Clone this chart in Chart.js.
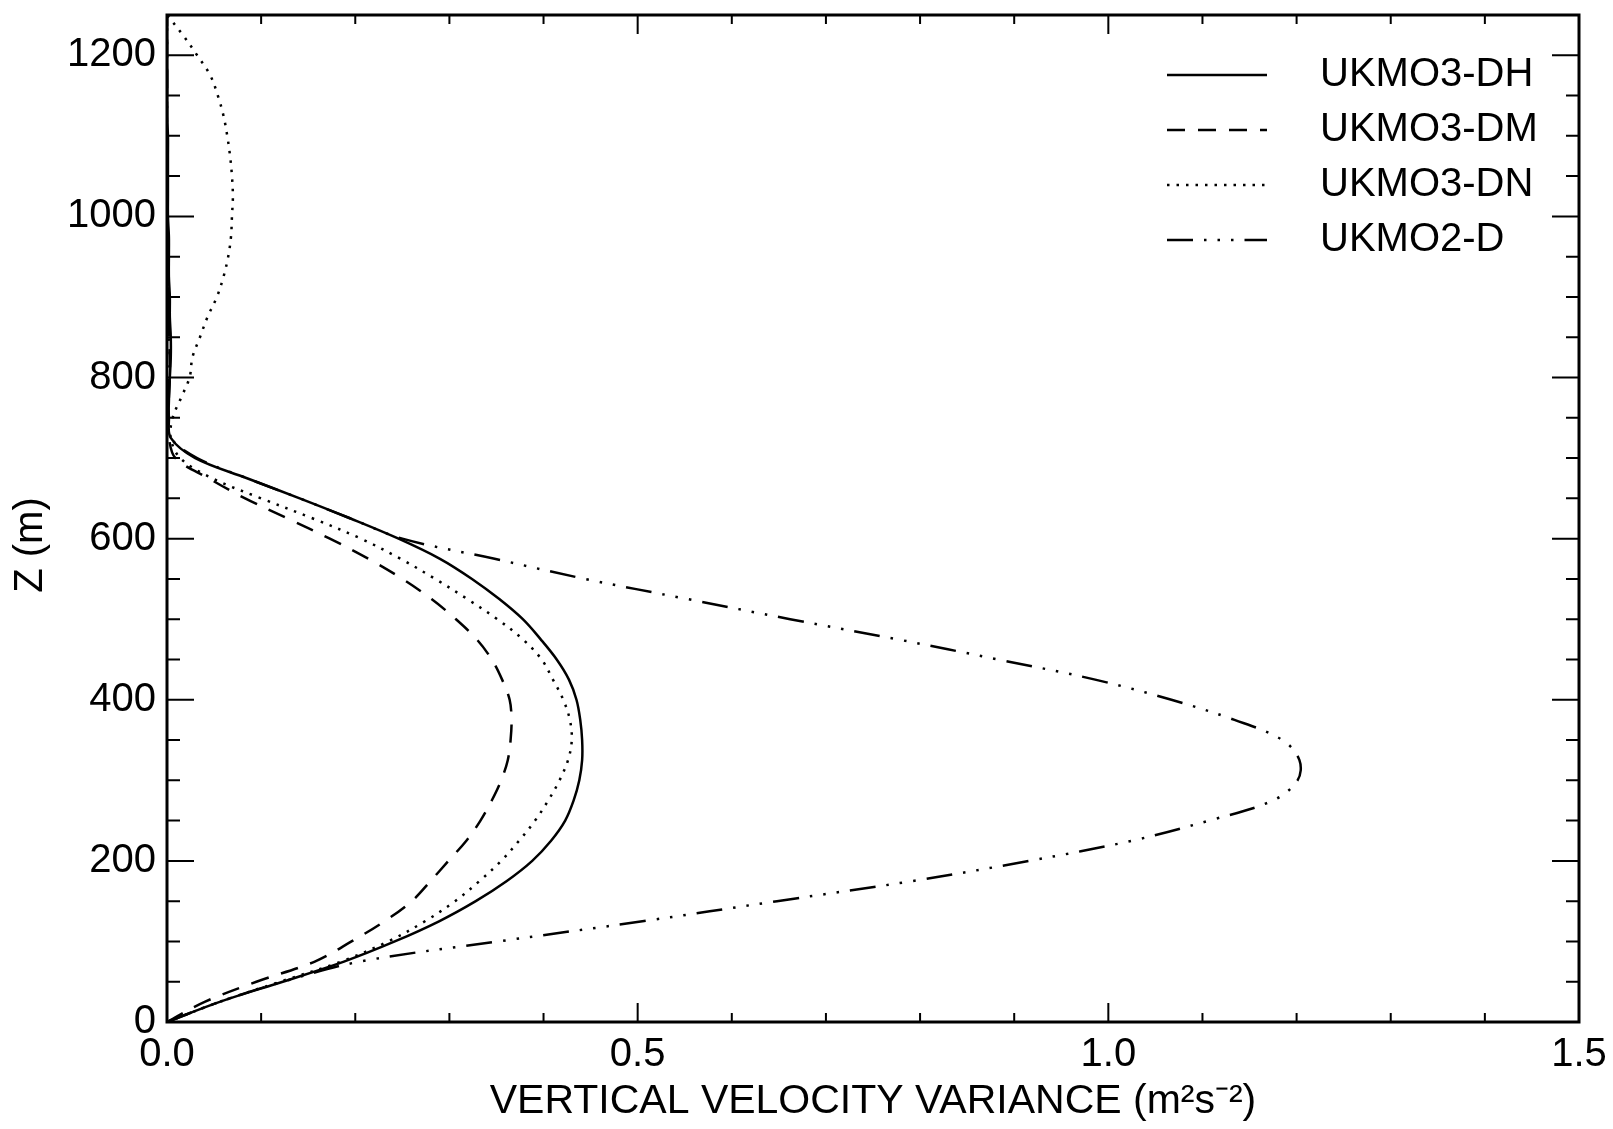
<!DOCTYPE html>
<html>
<head>
<meta charset="utf-8">
<script src="https://cdn.jsdelivr.net/npm/chart.js@4.4.0/dist/chart.umd.min.js"></script>
<style>
html,body{margin:0;padding:0;background:#fff;}
#wrap{width:1613px;height:1129px;position:relative;}
</style>
</head>
<body>
<div id="wrap"><canvas id="profileChart"></canvas></div>
<script>
// heights (m) shared by every profile
const heights = [0,25,50,75,100,125,150,175,200,225,250,275,300,325,350,375,400,425,450,475,
  500,525,550,575,600,625,650,675,700,725,750,775,800,825,850,875,900,925,950,975,
  1000,1025,1050,1075,1100,1125,1150,1175,1200,1225,1250];

// vertical velocity variance (m2 s-2)
const ukmo3DH = [0,0.056,0.123,0.188,0.242,0.289,0.328,0.361,0.388,0.408,0.423,0.432,0.438,0.441,0.441,0.439,0.435,0.427,0.414,0.397,
  0.378,0.353,0.324,0.290,0.246,0.195,0.141,0.085,0.030,0.004,
  0.002,0.002,0.003,0.004,0.004,0.003,0.003,0.002,0.002,0.002,0.001,0.001,0.001,0.001,0.001,0,0,0,0,0,0];
const ukmo3DM = [0,0.040,0.095,0.157,0.196,0.231,0.260,0.280,0.299,0.318,0.333,0.345,0.355,0.362,0.365,0.366,0.364,0.356,0.345,0.329,
  0.307,0.281,0.250,0.214,0.173,0.128,0.083,0.044,0.009,0.002,
  0.001,0.002,0.003,0.003,0.002,0.002,0.001,0.001,0.001,0.001,0,0,0,0,0,0,0,0,0,0,0];
const ukmo3DN = [0,0.056,0.120,0.185,0.235,0.274,0.306,0.332,0.355,0.374,0.391,0.405,0.417,0.426,0.430,0.428,0.421,0.410,0.398,0.378,
  0.351,0.319,0.285,0.248,0.206,0.155,0.100,0.048,0.014,0.004,
  0.006,0.015,0.024,0.027,0.035,0.043,0.053,0.060,0.065,0.068,0.069,0.070,0.069,0.067,0.064,0.060,0.054,0.046,0.032,0.017,0.000];
const ukmo2D = [0,0.056,0.123,0.205,0.352,0.505,0.648,0.792,0.916,1.025,1.107,1.175,1.201,1.203,1.185,1.134,1.067,0.986,0.883,0.776,
  0.662,0.553,0.444,0.348,0.250,0.195,0.141,0.085,0.032,0.004,
  0.002,0.002,0.002,0.003,0.002,0.002,0.001,0.001,0.001,0,0,0,0,0,0,0,0,0,0,0,0];

const seriesLabels = ['UKMO3-DH','UKMO3-DM','UKMO3-DN','UKMO2-D'];
const xMajorTicks = [0, 0.5, 1.0, 1.5];
const yMajorTicks = [0, 200, 400, 600, 800, 1000, 1200];

const FONT = "'Liberation Sans', Arial, Helvetica, sans-serif";
Chart.defaults.font.family = FONT;
Chart.defaults.color = '#000';

function toPoints(vals){
  return heights.map((z, i) => ({x: vals[i], y: z}));
}

function profile(label, vals, dash){
  return {
    label: label,
    data: toPoints(vals),
    showLine: true,
    borderColor: '#000',
    borderWidth: 2.5,
    borderDash: dash,
    pointRadius: 0,
    tension: 0.35,
    fill: false
  };
}

// frame, inward ticks on all four sides, legend, y title
const framePlugin = {
  id: 'frame',
  afterDraw(chart){
    const ctx = chart.ctx, a = chart.chartArea;
    const xs = chart.scales.x, ys = chart.scales.y;
    ctx.save();
    ctx.strokeStyle = '#000';
    ctx.lineWidth = 3;
    ctx.strokeRect(a.left, a.top, a.right - a.left, a.bottom - a.top);

    ctx.lineWidth = 2;
    ctx.beginPath();
    for (let i = 0; i <= 15; i++){
      const px = xs.getPixelForValue(i / 10);
      const len = i % 5 === 0 ? 19 : 9;
      ctx.moveTo(px, a.bottom); ctx.lineTo(px, a.bottom - len);
      ctx.moveTo(px, a.top); ctx.lineTo(px, a.top + len);
    }
    for (let z = 0; z <= 1250; z += 50){
      const py = ys.getPixelForValue(z);
      const len = z % 200 === 0 ? 27 : 13;
      ctx.moveTo(a.left, py); ctx.lineTo(a.left + len, py);
      ctx.moveTo(a.right, py); ctx.lineTo(a.right - len, py);
    }
    ctx.stroke();

    // legend
    ctx.font = '40px ' + FONT;
    ctx.textBaseline = 'middle';
    ctx.textAlign = 'left';
    ctx.fillStyle = '#000';
    chart.data.datasets.forEach((ds, i) => {
      const y = 75 + i * 55;
      ctx.setLineDash(ds.borderDash || []);
      ctx.lineWidth = 2.5;
      ctx.beginPath();
      ctx.moveTo(1167, y); ctx.lineTo(1267, y);
      ctx.stroke();
      ctx.setLineDash([]);
      ctx.fillText(ds.label, 1320, y);
    });

    // y axis title
    ctx.font = '40px ' + FONT;
    ctx.textAlign = 'center';
    ctx.translate(31, 545);
    ctx.rotate(-Math.PI / 2);
    ctx.fillText('Z (m)', 0, 0);
    ctx.restore();
  }
};

const ctx = document.getElementById('profileChart').getContext('2d');
new Chart(ctx, {
  type: 'scatter',
  data: {
    datasets: [
      profile(seriesLabels[0], ukmo3DH, []),
      profile(seriesLabels[1], ukmo3DM, [18, 13]),
      profile(seriesLabels[2], ukmo3DN, [2.5, 7]),
      profile(seriesLabels[3], ukmo2D, [26, 11, 2.5, 11, 2.5, 11, 2.5, 11])
    ]
  },
  options: {
    responsive: true,
    maintainAspectRatio: false,
    animation: false,
    events: [],
    layout: {padding: {left: 0, right: 34, top: 15, bottom: 0}},
    plugins: {
      legend: {display: false},
      tooltip: {enabled: false}
    },
    scales: {
      x: {
        type: 'linear',
        min: 0,
        max: 1.5,
        grid: {display: false, drawTicks: false},
        border: {display: false},
        afterBuildTicks: s => { s.ticks = xMajorTicks.map(v => ({value: v})); },
        afterFit: s => { s.height = 107; s.paddingLeft = 0; s.paddingRight = 0; },
        ticks: {
          padding: 9,
          maxRotation: 0,
          font: {size: 40},
          color: '#000',
          callback: v => Number(v).toFixed(1)
        },
        title: {
          display: true,
          text: 'VERTICAL VELOCITY VARIANCE (m\u00B2s\u207B\u00B2)',
          font: {size: 41},
          color: '#000',
          padding: {top: 0, bottom: 3}
        }
      },
      y: {
        type: 'linear',
        min: 0,
        max: 1250,
        grid: {display: false, drawTicks: false},
        border: {display: false},
        afterBuildTicks: s => { s.ticks = yMajorTicks.map(v => ({value: v})); },
        afterFit: s => { s.width = 167; s.paddingTop = 0; s.paddingBottom = 0; },
        ticks: {
          padding: 11,
          font: {size: 40},
          color: '#000',
          callback: v => String(v)
        }
      }
    }
  },
  plugins: [framePlugin]
});
</script>
</body>
</html>
